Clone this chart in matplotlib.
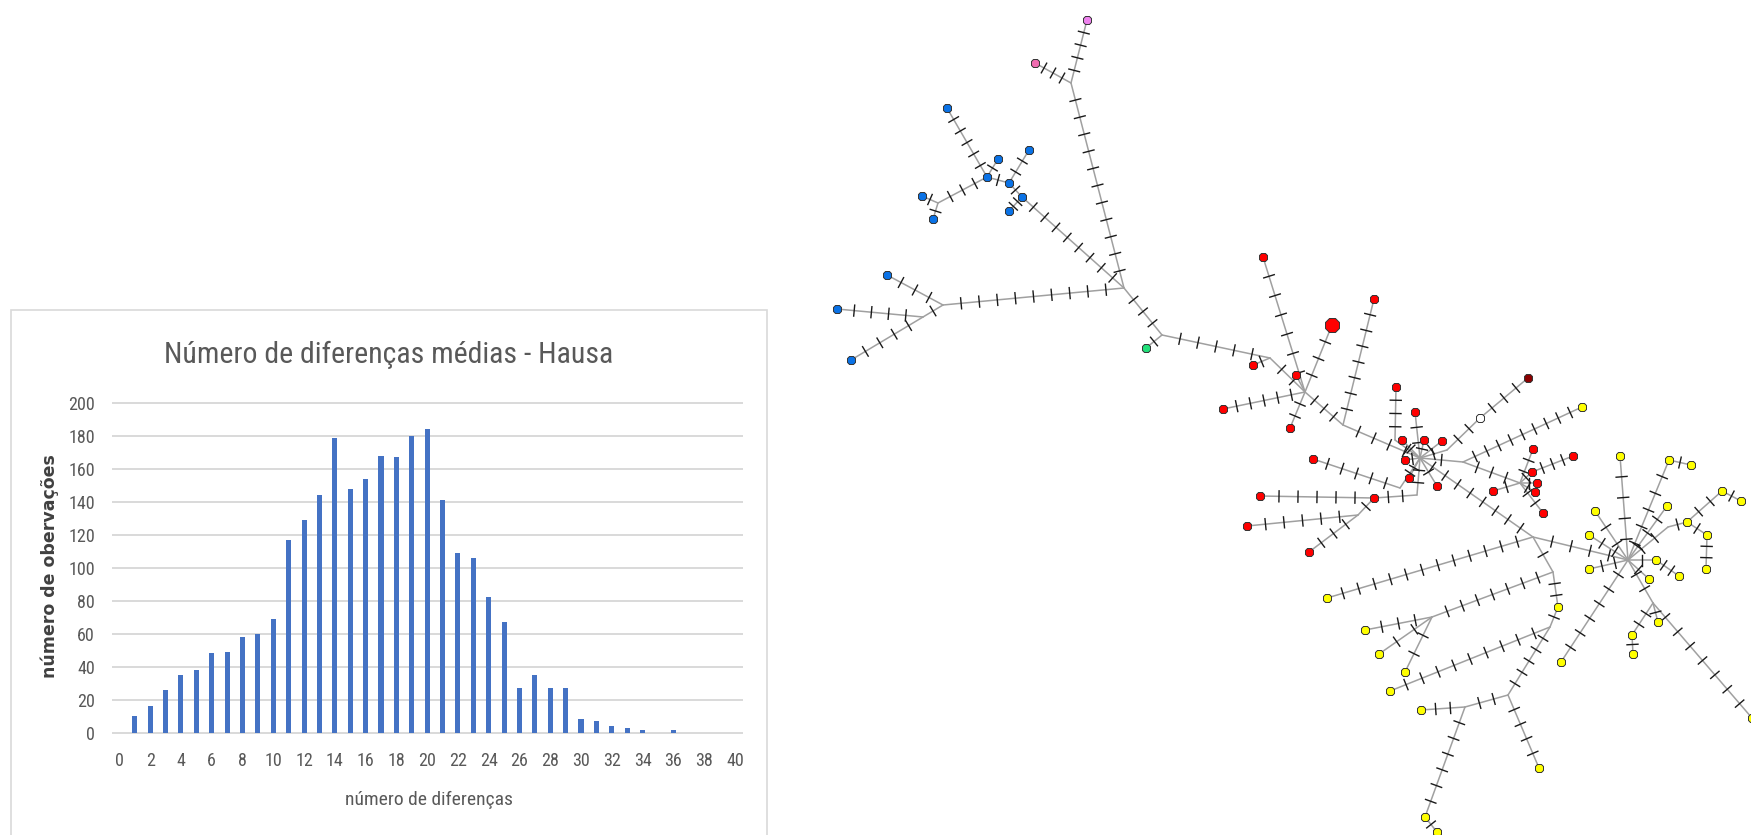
import numpy as np
import matplotlib
matplotlib.use("Agg")
import matplotlib.pyplot as plt
from matplotlib.patches import Rectangle
from matplotlib import font_manager as fm

# ---------------- Bar chart data ----------------
categories = list(range(0, 41))
values = [0, 10, 16, 26, 35, 38, 48, 49, 58, 60, 69, 117, 129, 144, 179, 148, 154,
          168, 167, 180, 184, 141, 109, 106, 82, 67, 27, 35, 27, 27, 8, 7, 4, 3,
          1.5, 0, 1.5, 0, 0, 0, 0]
xtick_labels = [str(v) for v in range(0, 41, 2)]
ytick_values = list(range(0, 201, 20))
title = "Número de diferenças médias - Hausa"
xlabel = "número de diferenças"
ylabel = "número de obervações"

# ---------------- Network data (pixel coordinates of the picture) ----------------
node_names = ['J1', 'HUB', 'BJ', 'J4', 'J4b', 'J5', 'R1', 'RH1', 'RH2', 'RH3', 'CR', 'RP2', 'RR2',
              'RS2', 'OJ', 'YJ0', 'RSH', 'JY1', 'YH', 'JY2', 'JY4', 'JY5', 'JY3', 'JY6', 'YJ7', 'YJ9',
              'V', 'P', 'B1', 'B2', 'B3', 'B4', 'B5', 'B6', 'B7', 'B8', 'B9', 'B10', 'B11', 'B12', 'G',
              'Ra', 'Rb', 'Rc', 'Rd', 'Re', 'Rf', 'Rg', 'Rh', 'Ri', 'Rj', 'Rk', 'Rl', 'Rm', 'Rn', 'Ro',
              'Rp', 'Rq', 'Rr', 'Rs', 'Rt', 'Ru', 'Rv', 'Rw', 'Rx', 'Ry', 'Rz', 'Raa', 'DR', 'O',
              'Y0', 'Y1', 'Y2', 'Y3', 'Y4', 'Y5', 'Y6', 'Y7', 'Y8', 'Y9', 'Y10', 'Y11', 'Y12', 'Y13',
              'Y14', 'Y15', 'Y16', 'Y17', 'Y18', 'Y19', 'Y20', 'Y21', 'Y22', 'Y23', 'Y24', 'Y25',
              'Y26', 'Y27', 'Y28', 'Y29', 'Y30']
node_x = [1071, 1124, 938, 943, 923, 1162, 1270, 1305, 1343, 1395, 1420, 1400, 1417,
          1358, 1447, 1463, 1520, 1533, 1628, 1553, 1432, 1550, 1508, 1465, 1668, 1653,
          1087, 1035, 947, 998, 1022, 987, 1009, 1029, 1009, 922, 933, 887, 837, 851, 1146,
          1263, 1332, 1374, 1253, 1296, 1223, 1290, 1396, 1415, 1402, 1424, 1442, 1405, 1409, 1437,
          1313, 1260, 1374, 1247, 1309, 1533, 1573, 1532, 1537, 1535, 1543, 1493, 1528, 1480,
          1582, 1620, 1669, 1691, 1722, 1741, 1667, 1595, 1687, 1707, 1589, 1656, 1589, 1706,
          1679, 1649, 1327, 1558, 1365, 1658, 1632, 1379, 1633, 1561, 1405, 1390,
          1421, 1539, 1425, 1437, 1752]
node_y = [83, 288, 203, 305, 317, 335, 358, 392, 425, 440, 458, 488, 495,
          515, 450, 462, 483, 537, 560, 572, 617, 627, 695, 707, 527, 603,
          20, 63, 108, 159, 197, 177, 183, 150, 211, 196, 219, 275, 309, 360, 348,
          257, 325, 299, 365, 375, 409, 428, 387, 412, 440, 440, 441, 460, 478, 486,
          459, 496, 498, 526, 552, 449, 456, 472, 483, 492, 513, 491, 378, 418,
          407, 456, 460, 465, 491, 501, 506, 511, 522, 535, 535, 560, 569, 569,
          576, 579, 598, 607, 630, 622, 635, 654, 654, 662, 672, 691,
          710, 768, 817, 832, 718]
node_group = ['j'] * 26 + ['violet', 'pink'] + ['blue'] * 12 + ['green'] + ['red'] * 27 + \
             ['darkred', 'open'] + ['yellow'] * 31
large_nodes = ['Rb']

edges = [('V', 'J1', 4), ('P', 'J1', 3), ('J1', 'HUB', 11),
         ('B3', 'HUB', 8), ('B1', 'B4', 5), ('B4', 'B2', 1), ('B4', 'B5', 1), ('B5', 'B6', 2),
         ('B5', 'B3', 1), ('B3', 'B7', 2), ('B4', 'BJ', 3), ('BJ', 'B8', 1), ('BJ', 'B9', 1),
         ('HUB', 'J4', 9), ('J4', 'B10', 3), ('J4', 'J4b', 1), ('J4b', 'B11', 4), ('J4b', 'B12', 4),
         ('HUB', 'J5', 3), ('J5', 'G', 1), ('J5', 'R1', 5),
         ('R1', 'Rd', 1), ('R1', 'RH1', 2), ('Ra', 'RH1', 6), ('Rb', 'RH1', 3), ('Re', 'RH1', 0),
         ('Rf', 'RH1', 5), ('Rg', 'RH1', 2), ('RH1', 'RH2', 3), ('Rc', 'RH2', 7), ('RH2', 'CR', 4),
         ('Rh', 'RH3', 3), ('RH3', 'CR', 1), ('Ri', 'CR', 2), ('Rj', 'CR', 1), ('Rk', 'CR', 1),
         ('Rl', 'CR', 1), ('Rm', 'CR', 1), ('Rn', 'CR', 1), ('Ro', 'CR', 1),
         ('Rp', 'RP2', 5), ('RP2', 'CR', 1), ('Rq', 'Rr', 5), ('Rr', 'RR2', 2), ('RR2', 'CR', 2),
         ('Rs', 'RS2', 5), ('RS2', 'Rr', 1), ('Rt', 'RS2', 3),
         ('CR', 'OJ', 1), ('OJ', 'O', 2), ('O', 'DR', 3), ('CR', 'YJ0', 1), ('YJ0', 'Y0', 9),
         ('YJ0', 'RSH', 3), ('RSH', 'Ru', 2), ('RSH', 'Rw', 1), ('Rw', 'Rv', 3), ('RSH', 'Rx', 1),
         ('RSH', 'Ry', 1), ('RSH', 'Rz', 2), ('RSH', 'Raa', 1),
         ('CR', 'JY1', 8),
         ('JY1', 'YH', 4), ('JY1', 'Y16', 12), ('JY1', 'JY2', 1), ('JY2', 'Y17', 2), ('JY2', 'JY4', 7),
         ('JY4', 'Y18', 3), ('JY4', 'Y24', 2), ('JY4', 'Y21', 2), ('Y17', 'JY5', 1), ('JY5', 'Y25', 9),
         ('JY5', 'JY3', 5), ('JY3', 'Y27', 4), ('JY3', 'JY6', 2), ('JY6', 'Y26', 2), ('JY6', 'Y28', 6),
         ('Y28', 'Y29', 1),
         ('YH', 'Y23', 6), ('YH', 'Y1', 4), ('YH', 'Y2', 5), ('Y2', 'Y3', 1), ('YH', 'Y6', 3),
         ('YH', 'YJ7', 2), ('YJ7', 'Y8', 1), ('Y8', 'Y4', 2), ('Y4', 'Y5', 1), ('Y8', 'Y9', 1),
         ('Y9', 'Y13', 2), ('YH', 'Y7', 2), ('YH', 'Y10', 2), ('YH', 'Y12', 2), ('YH', 'Y11', 1),
         ('YH', 'Y15', 1), ('Y11', 'Y14', 2), ('YH', 'YJ9', 2), ('YJ9', 'Y19', 1), ('YJ9', 'Y20', 2),
         ('Y20', 'Y22', 1), ('YJ9', 'Y30', 7)]

group_colors = {'violet': '#EE82EE', 'pink': '#F06CB0', 'blue': '#0A72E6', 'green': '#22E07A',
                'red': '#FF0000', 'darkred': '#8B0000', 'open': '#FFFFFF', 'yellow': '#FFFF00'}

# ---------------- Figure ----------------
W, H = 1751, 835
fig = plt.figure(figsize=(W / 100, H / 100), dpi=100)
fig.patch.set_facecolor('white')

names = {f.name for f in fm.fontManager.ttflist}
narrow = next((n for n in ['Liberation Sans Narrow', 'Roboto Condensed', 'Open Sans Condensed']
               if n in names), 'DejaVu Sans')
stretch = 'normal' if narrow != 'DejaVu Sans' else 'condensed'
grey = '#595959'

# chart frame
fig.patches.append(Rectangle((11 / W, (H - 850) / H), (767 - 11) / W, (850 - 310) / H,
                             transform=fig.transFigure, fill=False, ec='#D9D9D9', lw=1.2))

ax = fig.add_axes([111.7 / W, (H - 732.5) / H, (742.6 - 111.7) / W, (732.5 - 403) / H])
ax.hlines(ytick_values, -0.5, 40.5, color='#D9D9D9', lw=1.4, zorder=0, clip_on=False)
ax.bar(categories, values, width=0.33, color='#4472C4', zorder=2)
ax.set_xlim(-0.5, 40.5)
ax.set_ylim(0, 200)
ax.set_xticks(range(0, 41, 2))
ax.set_xticklabels(xtick_labels)
ax.set_yticks(ytick_values)
for s in ax.spines.values():
    s.set_visible(False)
ax.tick_params(axis='both', length=0, colors=grey, labelsize=13)
ax.tick_params(axis='x', pad=14)
ax.tick_params(axis='y', pad=12)
for lab in ax.get_xticklabels() + ax.get_yticklabels():
    lab.set_fontfamily(narrow)
    lab.set_fontstretch(stretch)
    lab.set_color(grey)
ax.set_facecolor('none')

fig.text(388.6 / W, 1 - 355 / H, title, ha='center', va='center', fontsize=21.5,
         family=narrow, fontstretch=stretch, color=grey)
fig.text(429 / W, 1 - 799.6 / H, xlabel, ha='center', va='center', fontsize=14,
         family=narrow, fontstretch=stretch, color=grey)
fig.text(50 / W, 1 - 566 / H, ylabel, ha='center', va='center', rotation=90, fontsize=12.5,
         family='DejaVu Sans', fontweight='bold', color='#404040')

# ---------------- Network ----------------
ax2 = fig.add_axes([0, 0, 1, 1], zorder=3)
ax2.set_xlim(0, W)
ax2.set_ylim(H, 0)
ax2.axis('off')
ax2.patch.set_visible(False)

pos = {n: (x, y) for n, x, y in zip(node_names, node_x, node_y)}
tick_half = 5.5
for a, b, n in edges:
    (x0, y0), (x1, y1) = pos[a], pos[b]
    ax2.plot([x0, x1], [y0, y1], color='#A0A0A0', lw=1.1, zorder=1, solid_capstyle='round')
    L = np.hypot(x1 - x0, y1 - y0)
    if L == 0 or n == 0:
        continue
    ux, uy = (x1 - x0) / L, (y1 - y0) / L
    px, py = -uy, ux
    for i in range(n):
        t = (i + 1) / (n + 1)
        cx, cy = x0 + t * (x1 - x0), y0 + t * (y1 - y0)
        ax2.plot([cx - px * tick_half, cx + px * tick_half],
                 [cy - py * tick_half, cy + py * tick_half], color='#1A1A1A', lw=1.0, zorder=2)

for n, x, y, g in zip(node_names, node_x, node_y, node_group):
    if g == 'j':
        continue
    ms = 11 if n in large_nodes else 7
    ax2.plot(x, y, marker='8', ms=ms, mfc=group_colors[g], mec='#333333', mew=0.7,
             zorder=4, clip_on=False)

fig.savefig('out.png', dpi=100, facecolor='white')
